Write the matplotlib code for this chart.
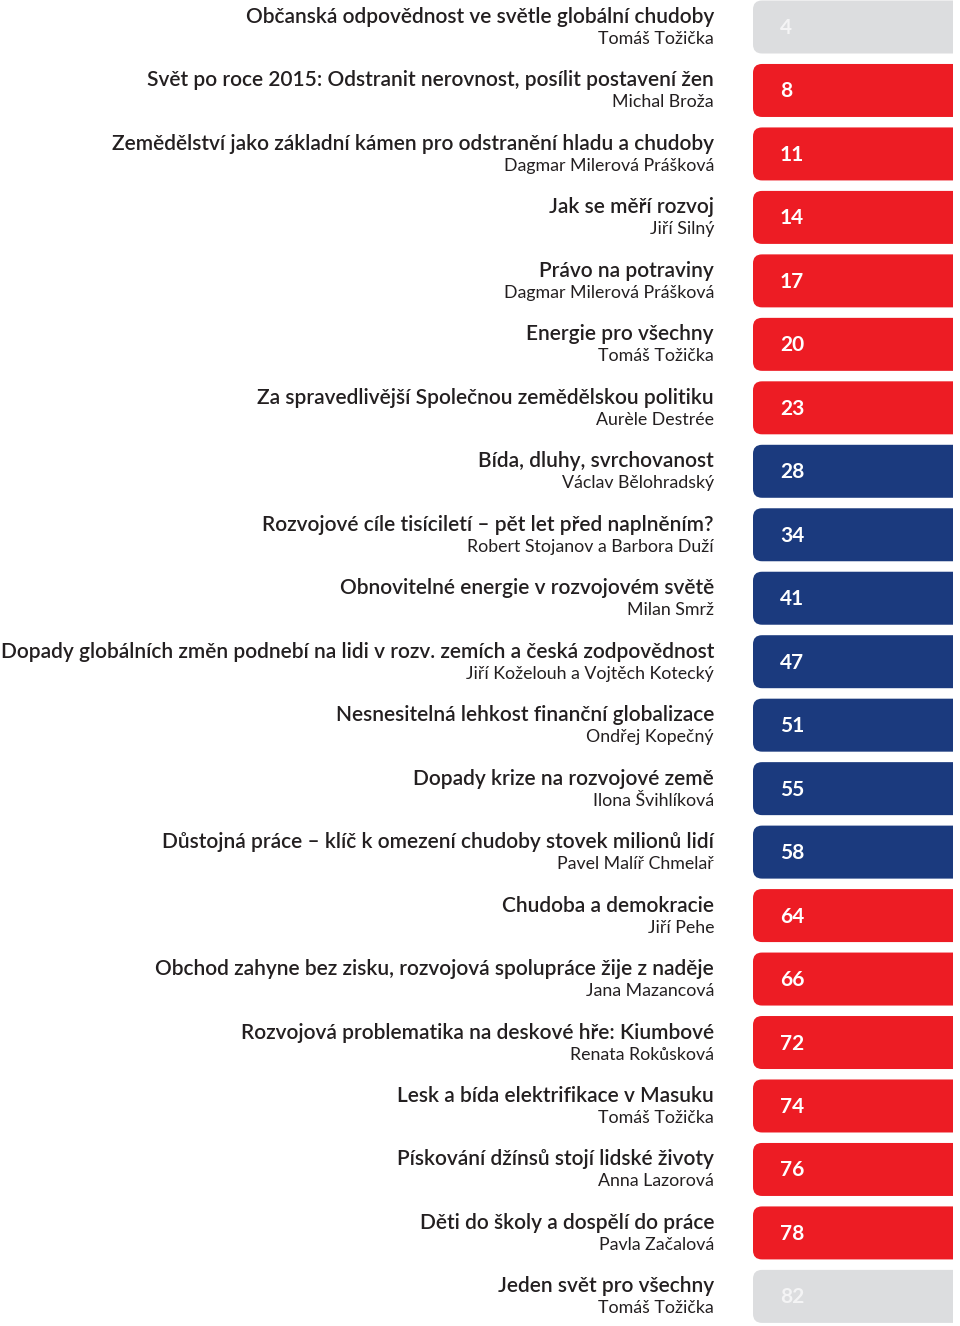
import matplotlib.pyplot as plt
from matplotlib.patches import FancyBboxPatch

# table of contents data
titles = [
    "Občanská odpovědnost ve světle globální chudoby",
    "Svět po roce 2015: Odstranit nerovnost, posílit postavení žen",
    "Zemědělství jako základní kámen pro odstranění hladu a chudoby",
    "Jak se měří rozvoj",
    "Právo na potraviny",
    "Energie pro všechny",
    "Za spravedlivější Společnou zemědělskou politiku",
    "Bída, dluhy, svrchovanost",
    "Rozvojové cíle tisíciletí – pět let před naplněním?",
    "Obnovitelné energie v rozvojovém světě",
    "Dopady globálních změn podnebí na lidi v rozv. zemích a česká zodpovědnost",
    "Nesnesitelná lehkost finanční globalizace",
    "Dopady krize na rozvojové země",
    "Důstojná práce – klíč k omezení chudoby stovek milionů lidí",
    "Chudoba a demokracie",
    "Obchod zahyne bez zisku, rozvojová spolupráce žije z naděje",
    "Rozvojová problematika na deskové hře: Kiumbové",
    "Lesk a bída elektrifikace v Masuku",
    "Pískování džínsů stojí lidské životy",
    "Děti do školy a dospělí do práce",
    "Jeden svět pro všechny",
]
authors = [
    "Tomáš Tožička",
    "Michal Broža",
    "Dagmar Milerová Prášková",
    "Jiří Silný",
    "Dagmar Milerová Prášková",
    "Tomáš Tožička",
    "Aurèle Destrée",
    "Václav Bělohradský",
    "Robert Stojanov a Barbora Duží",
    "Milan Smrž",
    "Jiří Koželouh a Vojtěch Kotecký",
    "Ondřej Kopečný",
    "Ilona Švihlíková",
    "Pavel Malíř Chmelař",
    "Jiří Pehe",
    "Jana Mazancová",
    "Renata Rokůsková",
    "Tomáš Tožička",
    "Anna Lazorová",
    "Pavla Začalová",
    "Tomáš Tožička",
]
pages = [4, 8, 11, 14, 17, 20, 23, 28, 34, 41, 47, 51, 55, 58, 64, 66, 72, 74, 76, 78, 82]
sections = ["grey"] + ["red"] * 6 + ["blue"] * 7 + ["red"] * 6 + ["grey"]

colors = {"grey": "#DCDDDF", "red": "#ED1C24", "blue": "#1B3A7E"}
num_colors = {"grey": "#F4F4F5", "red": "white", "blue": "white"}
text_color = "#231F20"

plt.rcParams['font.family'] = ['Lato', 'DejaVu Sans']

W, H = 960, 1326
right = 953  # tabs stop a few pixels before the page edge
fig = plt.figure(figsize=(W / 100, H / 100), dpi=100)
ax = fig.add_axes([0, 0, right / W, 1])
ax.set_xlim(0, right)
ax.set_ylim(H, 0)
ax.axis('off')

top, pitch = 27, 63.47
tab_x, tab_h = 753, 53
text_x = 714

for i, (t, a, p, s) in enumerate(zip(titles, authors, pages, sections)):
    yc = top + pitch * i
    box = FancyBboxPatch((tab_x, yc - tab_h / 2), 260, tab_h,
                         boxstyle="round,pad=0,rounding_size=9",
                         fc=colors[s], ec='none', clip_on=True)
    ax.add_patch(box)
    ax.text(780, yc + 7, str(p), color=num_colors[s], fontsize=15,
            fontweight='bold', ha='left', va='baseline')
    ax.text(text_x, yc - 4, t, color=text_color, fontsize=15,
            fontweight='semibold', ha='right', va='baseline')
    ax.text(text_x, yc + 17, a, color=text_color, fontsize=12.8,
            ha='right', va='baseline')

fig.savefig('out.png', dpi=100)
